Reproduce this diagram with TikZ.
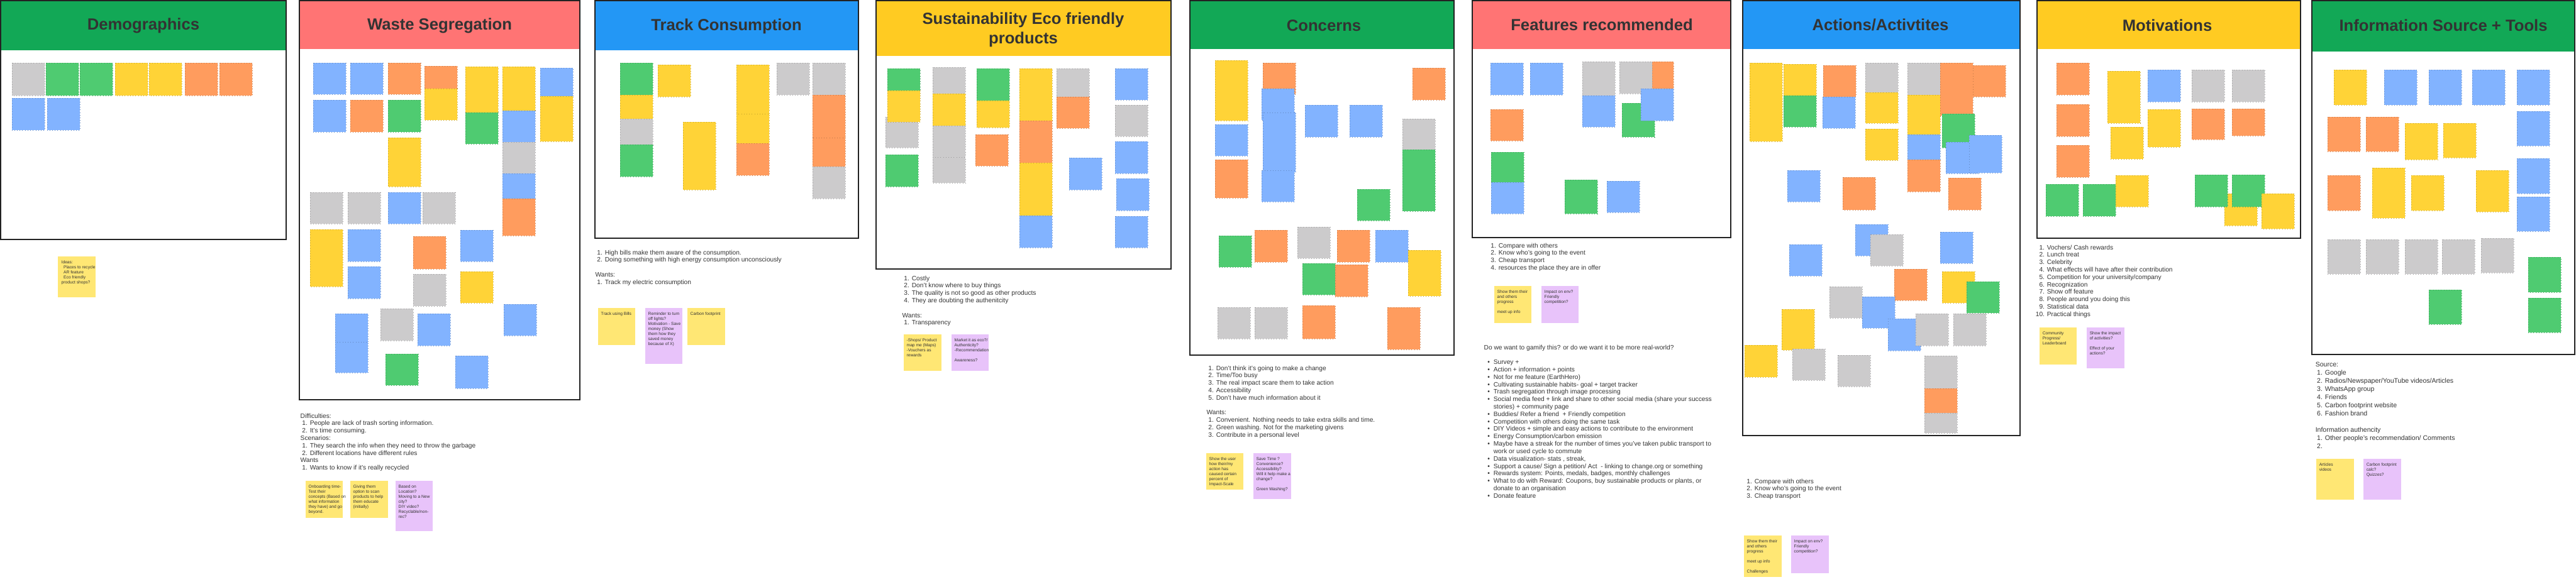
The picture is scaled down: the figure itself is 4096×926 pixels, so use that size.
\documentclass[tikz,border=0pt]{standalone}
\usepackage{fontspec}
\setmainfont{Liberation Sans}
\usepackage{tikz}
\usetikzlibrary{positioning}
\definecolor{my_text}{HTML}{333333}
\definecolor{my_frame}{HTML}{222222}
\definecolor{hdr_green}{HTML}{12A856}
\definecolor{hdr_red}{HTML}{FF7474}
\definecolor{hdr_blue}{HTML}{2397F5}
\definecolor{hdr_yellow}{HTML}{FFCB22}
\definecolor{note_gray}{HTML}{CCCBCC}
\definecolor{note_green}{HTML}{4FCB71}
\definecolor{note_yellow}{HTML}{FFD337}
\definecolor{note_orange}{HTML}{FF9C5E}
\definecolor{note_blue}{HTML}{82B3FF}
\definecolor{note_pale}{HTML}{FFE774}
\definecolor{note_lilac}{HTML}{E8C3FA}
\newcommand{\numitem}[2]{\makebox[3.2pt][r]{#1.}\hspace{1.1pt}#2}
\newcommand{\dotitem}[1]{\makebox[2.6pt][r]{\textbullet}\hspace{1.7pt}#1}
\newcommand{\contline}[1]{\hspace{4.3pt}#1}

\begin{document}
\begin{tikzpicture}[
    x=0.1mm, y=-0.1mm,
    board/.style={draw=my_frame, line width=0.5pt},
    sticky/.style={fill=#1, draw=#1!75!black, densely dotted, line width=0.2pt},
    frametitle/.style={text=my_text, font=\fontsize{7.3pt}{8.8pt}\selectfont\bfseries, align=center},
    listtext/.style={anchor=north west, align=left, inner sep=0pt, text=my_text,
                     font=\fontsize{2.9pt}{3.36pt}\selectfont},
    notetext/.style={anchor=north west, align=left, inner sep=0pt, text=my_text,
                     font=\fontsize{1.9pt}{2.28pt}\selectfont}
]
\useasboundingbox (0,0) rectangle (4096,926);
\fill[white] (0,0) rectangle (4096,926);

% -------- Frames with coloured headers ---------------------
\foreach \xa/\xb/\yb/\hh/\col in {1/455/381/80/hdr_green, 476/922/636/78/hdr_red,
    946/1365/379/80/hdr_blue, 1393/1862/428/89/hdr_yellow, 1892/2312/565/78/hdr_green,
    2341/2752/378/78/hdr_red, 2771/3212/693/78/hdr_blue, 3239/3658/379/78/hdr_yellow,
    3676/4094/564/82/hdr_green} {
    \fill[\col] (\xa,1) rectangle (\xb,\hh);
    \draw[board] (\xa,1) rectangle (\xb,\yb);
}
\node[frametitle] (t-demo)  at (228,41)  {Demographics};
\node[frametitle] (t-waste) at (699,41)  {Waste Segregation};
\node[frametitle] (t-track) at (1155,42) {Track Consumption};
\node[frametitle] (t-sust)  at (1627,47) {Sustainability Eco friendly\\products};
\node[frametitle] (t-conc)  at (2105,41) {Concerns};
\node[frametitle] (t-feat)  at (2547,39) {Features recommended};
\node[frametitle] (t-act)   at (2990,39) {Actions/Activtites};
\node[frametitle] (t-motiv) at (3446,40) {Motivations};
\node[frametitle] (t-info)  at (3885,40) {Information Source + Tools};

% -------- Sticky notes (x / y / height / colour), width 52 --
% Demographics
\foreach \x/\y/\h/\c in {19/100/52/note_gray, 73/100/52/note_green, 127/100/52/note_green,
    183/100/52/note_yellow, 237/100/52/note_yellow, 294/100/52/note_orange,
    349/100/52/note_orange, 19/156/51/note_blue, 75/156/51/note_blue}
    \fill[sticky=\c] (\x,\y) rectangle ++(52,\h);
% Waste Segregation
\foreach \x/\y/\h/\c in {498/100/50/note_blue, 557/100/50/note_blue, 617/100/50/note_orange,
    675/105/36/note_orange, 675/141/50/note_yellow, 740/106/73/note_yellow, 740/179/50/note_green,
    799/106/70/note_yellow, 799/176/50/note_blue, 799/226/50/note_gray, 799/276/40/note_blue,
    799/316/59/note_orange, 859/108/45/note_blue, 859/153/72/note_yellow,
    498/159/51/note_blue, 557/159/51/note_orange, 617/159/51/note_green, 617/219/78/note_yellow,
    493/306/50/note_gray, 553/306/50/note_gray, 617/306/50/note_blue, 672/306/50/note_gray,
    493/365/91/note_yellow, 553/365/51/note_blue, 553/424/51/note_blue, 657/376/52/note_orange,
    732/366/50/note_blue, 657/436/51/note_gray, 732/432/50/note_yellow,
    533/499/45/note_blue, 533/544/49/note_blue, 605/491/51/note_gray, 664/499/51/note_blue,
    801/484/50/note_blue, 613/563/50/note_green, 724/566/52/note_blue}
    \fill[sticky=\c] (\x,\y) rectangle ++(52,\h);
% Track Consumption
\foreach \x/\y/\h/\c in {986/100/51/note_green, 986/151/38/note_yellow, 986/189/41/note_gray,
    986/230/51/note_green, 1046/103/51/note_yellow, 1086/194/108/note_yellow,
    1171/103/78/note_yellow, 1171/181/47/note_yellow, 1171/228/51/note_orange,
    1235/100/51/note_gray, 1292/100/51/note_gray, 1292/151/68/note_orange,
    1292/219/46/note_orange, 1292/265/51/note_gray}
    \fill[sticky=\c] (\x,\y) rectangle ++(52,\h);
% Sustainability Eco friendly products
\foreach \x/\y/\h/\c in {1408/186/49/note_gray, 1411/109/35/note_green, 1411/144/50/note_yellow,
    1408/246/51/note_green, 1483/107/42/note_gray, 1483/149/51/note_yellow,
    1483/200/50/note_gray, 1483/250/41/note_gray, 1553/109/51/note_green,
    1553/160/43/note_yellow, 1551/214/50/note_orange, 1621/109/83/note_yellow,
    1621/192/67/note_orange, 1621/259/84/note_yellow, 1621/343/51/note_blue,
    1680/109/45/note_gray, 1680/154/50/note_orange, 1700/251/51/note_blue,
    1773/109/50/note_blue, 1773/167/50/note_gray, 1773/225/51/note_blue,
    1775/284/51/note_blue, 1773/344/50/note_blue}
    \fill[sticky=\c] (\x,\y) rectangle ++(52,\h);
% Concerns
\foreach \x/\y/\h/\c in {1932/96/96/note_yellow, 1932/198/50/note_blue, 1932/254/61/note_orange,
    2008/100/50/note_orange, 2006/141/50/note_blue, 2008/179/95/note_blue,
    2006/271/50/note_blue, 2075/167/51/note_blue, 2146/167/51/note_blue,
    2246/108/51/note_orange, 2230/189/49/note_gray, 2230/238/98/note_green,
    2158/301/50/note_green, 1938/375/50/note_green, 1995/366/51/note_orange,
    2063/361/50/note_gray, 2126/366/51/note_orange, 2187/366/51/note_blue,
    2239/398/73/note_yellow, 2071/419/50/note_green, 2123/421/51/note_orange,
    1936/489/50/note_gray, 1995/489/50/note_gray, 2071/486/53/note_orange,
    2206/489/67/note_orange}
    \fill[sticky=\c] (\x,\y) rectangle ++(52,\h);
% Features recommended
\foreach \x/\y/\h/\c in {2370/100/51/note_blue, 2433/100/51/note_blue, 2370/174/50/note_orange,
    2371/242/48/note_green, 2371/290/50/note_blue, 2516/98/54/note_gray,
    2516/152/50/note_blue, 2609/98/43/note_orange, 2575/98/51/note_gray,
    2579/164/54/note_green, 2609/141/51/note_blue, 2488/286/54/note_green,
    2555/288/50/note_blue}
    \fill[sticky=\c] (\x,\y) rectangle ++(52,\h);
% Actions/Activtites
\foreach \x/\y/\h/\c in {2782/100/125/note_yellow, 2836/102/50/note_yellow, 2836/152/50/note_green,
    2899/104/50/note_orange, 2898/154/50/note_blue, 2966/100/47/note_gray,
    2966/147/49/note_yellow, 2966/205/50/note_yellow, 3033/100/51/note_gray,
    3033/151/63/note_yellow, 3033/214/40/note_blue, 3033/254/51/note_orange,
    3085/100/84/note_orange, 3088/181/54/note_green, 3094/226/50/note_blue,
    3131/215/60/note_blue, 3137/104/50/note_orange, 2842/271/50/note_blue,
    2930/282/52/note_orange, 3098/283/51/note_orange, 2950/357/50/note_blue,
    2974/373/50/note_gray, 2845/389/50/note_blue, 3085/369/50/note_blue,
    3012/428/50/note_orange, 3088/432/50/note_yellow, 3127/448/50/note_green,
    2909/456/50/note_gray, 2961/472/50/note_blue, 3002/507/51/note_blue,
    3046/499/51/note_gray, 3106/499/51/note_gray, 2833/492/65/note_yellow,
    2774/549/51/note_yellow, 2850/555/50/note_gray, 2922/565/50/note_gray,
    3060/566/52/note_gray, 3060/618/39/note_orange, 3060/657/32/note_gray}
    \fill[sticky=\c] (\x,\y) rectangle ++(52,\h);
% Motivations
\foreach \x/\y/\h/\c in {3270/100/51/note_orange, 3270/166/51/note_orange, 3270/231/51/note_orange,
    3253/293/51/note_green, 3312/293/51/note_green, 3364/279/50/note_yellow,
    3351/113/83/note_yellow, 3356/202/51/note_yellow, 3415/111/51/note_blue,
    3415/174/60/note_yellow, 3485/111/51/note_gray, 3549/111/51/note_gray,
    3485/173/49/note_orange, 3549/173/43/note_orange, 3537/308/51/note_yellow,
    3490/278/51/note_green, 3549/278/51/note_green, 3596/308/56/note_yellow}
    \fill[sticky=\c] (\x,\y) rectangle ++(52,\h);
% Information Source + Tools
\foreach \x/\y/\h/\c in {3711/111/56/note_yellow, 3791/111/56/note_blue, 3862/111/56/note_blue,
    3931/111/56/note_blue, 4002/111/56/note_blue, 3701/186/55/note_orange,
    3762/186/55/note_orange, 3824/196/58/note_yellow, 3885/196/55/note_yellow,
    4002/177/55/note_blue, 3701/279/56/note_orange, 3772/267/80/note_yellow,
    3834/279/56/note_yellow, 3937/271/66/note_yellow, 4002/252/56/note_blue,
    4002/313/55/note_blue, 3701/381/55/note_gray, 3762/381/55/note_gray,
    3824/381/55/note_gray, 3883/381/55/note_gray, 3945/379/55/note_gray,
    4020/409/56/note_green, 4020/474/55/note_green, 3862/461/55/note_green}
    \fill[sticky=\c] (\x,\y) rectangle ++(52,\h);

% -------- Notes under the frames ----------------------------
\foreach \x/\y/\w/\h/\c in {92/408/60/65/note_pale,
    486/765/59/59/note_pale, 557/765/60/59/note_pale, 629/765/59/80/note_lilac,
    951/490/59/59/note_pale, 1026/490/59/89/note_lilac, 1093/490/60/59/note_pale,
    1437/532/60/58/note_pale, 1513/532/59/58/note_lilac,
    1918/721/59/58/note_pale, 1993/721/60/73/note_lilac,
    2376/455/59/59/note_pale, 2451/455/59/59/note_lilac,
    2773/852/60/66/note_pale, 2848/852/60/60/note_lilac,
    3243/521/59/59/note_pale, 3318/521/60/65/note_lilac,
    3683/730/60/65/note_pale, 3758/730/60/65/note_lilac}
    \fill[\c] (\x,\y) rectangle ++(\w,\h);

\node[notetext] (n-demo)   at (97,414)   {Ideas:\\\hspace{1pt}Places to recycle\\\hspace{1pt}AR feature\\\hspace{1pt}Eco friendly\\product shops?};
\node[notetext] (n-waste1) at (490,771)  {Onboarding time-\\Test their\\concepts (Based on\\what information\\they have) and go\\beyond.};
\node[notetext] (n-waste2) at (561,771)  {Giving them\\option to scan\\products to help\\them educate\\(initially)};
\node[notetext] (n-waste3) at (633,771)  {Based on\\Location?\\Moving to a New\\city?\\DIY video?\\Recyclable/non-\\rec?};
\node[notetext] (n-track1) at (955,496)  {Track using Bills};
\node[notetext] (n-track2) at (1030,496) {Reminder to turn\\off lights?\\Motivation - Save\\money (Show\\them how they\\saved money\\because of X)};
\node[notetext] (n-track3) at (1097,496) {Carbon footprint};
\node[notetext] (n-sust1)  at (1441,538) {-Shops/ Product\\map me (Maps)\\-Vouchers as\\rewards};
\node[notetext] (n-sust2)  at (1517,538) {Market it as eco?/\\Authenticity?\\-Recommendation\\[2.28pt]Awareness?};
\node[notetext] (n-conc1)  at (1922,727) {Show the user\\how their/my\\action has\\caused certain\\percent of\\Impact-Scale};
\node[notetext] (n-conc2)  at (1997,727) {Save Time ?\\Convenience?\\Accessibility?\\Will it help make a\\change?\\[2.28pt]Green Washing?};
\node[notetext] (n-feat1)  at (2380,461) {Show them their\\and others\\progress\\[2.28pt]meet up info};
\node[notetext] (n-feat2)  at (2455,461) {Impact on env?\\Friendly\\competition?};
\node[notetext] (n-act1)   at (2777,858) {Show them their\\and others\\progress\\[2.28pt]meet up info\\[2.28pt]Challenges};
\node[notetext] (n-act2)   at (2852,858) {Impact on env?\\Friendly\\competition?};
\node[notetext] (n-motiv1) at (3247,527) {Community\\Progress/\\Leaderboard};
\node[notetext] (n-motiv2) at (3322,527) {Show the impact\\of activities?\\[2.28pt]Effect of your\\actions?};
\node[notetext] (n-info1)  at (3687,736) {Articles\\videos};
\node[notetext] (n-info2)  at (3762,736) {Carbon footprint\\calc?\\Quizzes?};

% -------- Findings written under the frames -----------------
\node[listtext] (l-waste) at (477,657) {Difficulties:\\
    \numitem{1}{People are lack of trash sorting information.}\\
    \numitem{2}{It's time consuming.}\\
    Scenarios:\\
    \numitem{1}{They search the info when they need to throw the garbage}\\
    \numitem{2}{Different locations have different rules}\\
    Wants\\
    \numitem{1}{Wants to know if it's really recycled}};
\node[listtext] (l-track) at (946,397) {\numitem{1}{High bills make them aware of the consumption.}\\
    \numitem{2}{Doing something with high energy consumption unconsciously}\\[3.36pt]
    Wants:\\
    \numitem{1}{Track my electric consumption}};
\node[listtext] (l-sust) at (1434,438) {\numitem{1}{Costly}\\
    \numitem{2}{Don't know where to buy things}\\
    \numitem{3}{The quality is not so good as other products}\\
    \numitem{4}{They are doubting the authenitcity}\\[3.36pt]
    Wants:\\
    \numitem{1}{Transparency}};
\node[listtext] (l-conc) at (1918,581) {\numitem{1}{Don't think it's going to make a change}\\
    \numitem{2}{Time/Too busy}\\
    \numitem{3}{The real impact scare them to take action}\\
    \numitem{4}{Accessibility}\\
    \numitem{5}{Don't have much information about it}\\[3.36pt]
    Wants:\\
    \numitem{1}{Convenient. Nothing needs to take extra skills and time.}\\
    \numitem{2}{Green washing. Not for the marketing givens}\\
    \numitem{3}{Contribute in a personal level}};
\node[listtext] (l-feat) at (2367,386) {\numitem{1}{Compare with others}\\
    \numitem{2}{Know who's going to the event}\\
    \numitem{3}{Cheap transport}\\
    \numitem{4}{resources the place they are in offer}};
\node[listtext] (l-gamify) at (2359,548) {Do we want to gamify this? or do we want it to be more real-world?\\[3.36pt]
    \dotitem{Survey +}\\
    \dotitem{Action + information + points}\\
    \dotitem{Not for me feature (EarthHero)}\\
    \dotitem{Cultivating sustainable habits- goal + target tracker}\\
    \dotitem{Trash segregation through image processing}\\
    \dotitem{Social media feed + link and share to other social media (share your success}\\
    \contline{stories) + community page}\\
    \dotitem{Buddies/ Refer a friend\ \ + Friendly competition}\\
    \dotitem{Competition with others doing the same task}\\
    \dotitem{DIY Videos + simple and easy actions to contribute to the environment}\\
    \dotitem{Energy Consumption/carbon emission}\\
    \dotitem{Maybe have a streak for the number of times you've taken public transport to}\\
    \contline{work or used cycle to commute}\\
    \dotitem{Data visualization- stats , streak,}\\
    \dotitem{Support a cause/ Sign a petition/ Act\ \ - linking to change.org or something}\\
    \dotitem{Rewards system: Points, medals, badges, monthly challenges}\\
    \dotitem{What to do with Reward: Coupons, buy sustainable products or plants, or}\\
    \contline{donate to an organisation}\\
    \dotitem{Donate feature}};
\node[listtext] (l-act) at (2774,761) {\numitem{1}{Compare with others}\\
    \numitem{2}{Know who's going to the event}\\
    \numitem{3}{Cheap transport}};
\node[listtext] (l-motiv) at (3239,389) {\numitem{1}{Vochers/ Cash rewards}\\
    \numitem{2}{Lunch treat}\\
    \numitem{3}{Celebrity}\\
    \numitem{4}{What effects will have after their contribution}\\
    \numitem{5}{Competition for your university/company}\\
    \numitem{6}{Recognization}\\
    \numitem{7}{Show off feature}\\
    \numitem{8}{People around you doing this}\\
    \numitem{9}{Statistical data}\\
    \numitem{10}{Practical things}};
\node[listtext, font=\fontsize{3pt}{3.7pt}\selectfont] (l-info) at (3681,575) {Source:\\
    \numitem{1}{Google}\\
    \numitem{2}{Radios/Newspaper/YouTube videos/Articles}\\
    \numitem{3}{WhatsApp group}\\
    \numitem{4}{Friends}\\
    \numitem{5}{Carbon footprint website}\\
    \numitem{6}{Fashion brand}\\[3.7pt]
    Information authencity\\
    \numitem{1}{Other people's recommendation/ Comments}\\
    \numitem{2}{}};

\end{tikzpicture}
\end{document}
